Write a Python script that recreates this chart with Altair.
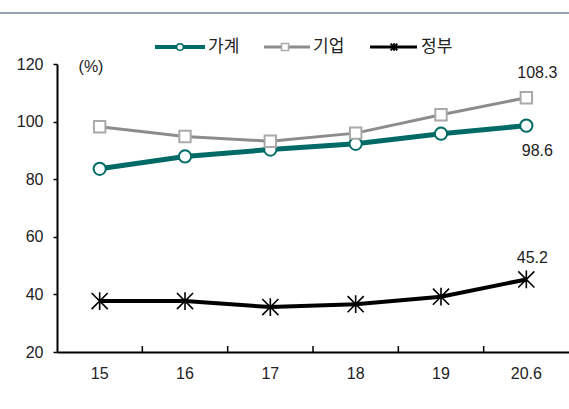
import altair as alt
import pandas as pd

years = ["15", "16", "17", "18", "19", "20.6"]
household = [83.6, 87.9, 90.3, 92.3, 95.8, 98.6]
corporate = [98.2, 94.8, 93.2, 96.0, 102.4, 108.3]
government = [37.7, 37.7, 35.6, 36.6, 39.2, 45.2]
series_names = ["가계", "기업", "정부"]
y_ticks = [20, 40, 60, 80, 100, 120]

W, H = 512, 288
PAD_L, PAD_T = 57, 64

TEAL = "#006B66"
GRAY = "#8C8C8C"
SQ_GRAY = "#AAAAAA"
BLACK = "#000000"
NUM_FONT = "Liberation Sans"
KR_FONT = "Noto Sans CJK KR"
STAR = "M-1,-1L1,1M-1,1L1,-1M0,-1.1L0,1.1"

rows = []
for name, vals in zip(series_names, [household, corporate, government]):
    for yr, v in zip(years, vals):
        rows.append({"year": yr, "series": name, "value": v})
df = pd.DataFrame(rows)

xscale = alt.Scale(type="band", domain=years, paddingInner=0, paddingOuter=0)
yscale = alt.Scale(domain=[20, 120], nice=False, zero=False)

xaxis = alt.Axis(title=None, ticks=False, labelPadding=13, labelFontSize=16,
                 labelFont=NUM_FONT, labelColor="#222", domainColor="#000",
                 domainWidth=2, labelAngle=0)
X = alt.X("year:N", scale=xscale, sort=years, bandPosition=0.5, axis=xaxis)
Y = alt.Y("value:Q", scale=yscale,
          axis=alt.Axis(title=None, values=y_ticks, tickSize=4, tickColor="#000",
                        tickWidth=1.5, labelPadding=10, labelFontSize=16,
                        labelFont=NUM_FONT, labelColor="#222", domainColor="#000",
                        domainWidth=2, grid=False))

base = alt.Chart(df)

styles = {
    "가계": dict(color=TEAL, width=5, shape="circle", size=150, stroke=TEAL, sw=2, fill="white"),
    "기업": dict(color=GRAY, width=3, shape="square", size=130, stroke=SQ_GRAY, sw=2, fill="white"),
    "정부": dict(color=BLACK, width=4, shape=STAR, size=260, stroke=BLACK, sw=1.6, fill=None),
}

layers = []

for name in ["정부", "가계", "기업"]:
    s = styles[name]
    sub = base.transform_filter(alt.datum.series == name)
    layers.append(sub.mark_line(color=s["color"], strokeWidth=s["width"]).encode(x=X, y=Y))
    pt_kwargs = dict(shape=s["shape"], size=s["size"], stroke=s["stroke"],
                     strokeWidth=s["sw"], opacity=1)
    if s["fill"]:
        pt_kwargs.update(filled=True, fill=s["fill"])
    else:
        pt_kwargs.update(filled=False)
    layers.append(sub.mark_point(**pt_kwargs).encode(x=X, y=Y))

# custom inward x ticks at band boundaries
tick_df = pd.DataFrame({"year": years[1:]})
layers.append(alt.Chart(tick_df).mark_rule(color="#000", strokeWidth=1.5).encode(
    x=alt.X("year:N", scale=xscale, sort=years, bandPosition=0, axis=xaxis),
    y=alt.value(H - 6), y2=alt.value(H)))

# value labels at last point
last = years[-1]
lab_specs = [("기업", 11, -25), ("가계", 11, 25), ("정부", 6, -21)]
for name, dx, dy in lab_specs:
    sub = base.transform_filter((alt.datum.series == name) & (alt.datum.year == last))
    layers.append(sub.mark_text(font=NUM_FONT, fontSize=16, color="#222", dx=dx, dy=dy).encode(
        x=X, y=Y, text=alt.Text("value:Q", format=".1f")))

# unit label
unit_df = pd.DataFrame({"t": ["(%)"]})
layers.append(alt.Chart(unit_df).mark_text(font=NUM_FONT, fontSize=16, color="#222").encode(
    x=alt.value(91 - PAD_L), y=alt.value(67 - PAD_T), text="t:N"))

# top gray rule
layers.append(alt.Chart(unit_df).mark_rule(color="#95A1AD", strokeWidth=2).encode(
    x=alt.value(-PAD_L), x2=alt.value(W + 2), y=alt.value(13 - PAD_T)))

# custom legend
LY = 47 - PAD_T
legend_pos = {"가계": (155, 205, 180, 208), "기업": (264, 310, 285, 313), "정부": (370, 417, 394, 421)}
legend_marker = {
    "가계": dict(shape="circle", size=45, stroke=TEAL, strokeWidth=1.5, filled=True, fill="white", opacity=1),
    "기업": dict(shape="square", size=50, stroke=SQ_GRAY, strokeWidth=1.5, filled=True, fill="white", opacity=1),
    "정부": dict(shape=STAR, size=45, stroke=BLACK, strokeWidth=2, filled=False, opacity=1),
}
legend_lw = {"가계": 4, "기업": 3, "정부": 3}
for name in series_names:
    x0, x1, xm, xt = legend_pos[name]
    ldf = pd.DataFrame({"label": [name]})
    lc = alt.Chart(ldf)
    layers.append(lc.mark_rule(color=styles[name]["color"], strokeWidth=legend_lw[name]).encode(
        x=alt.value(x0 - PAD_L), x2=alt.value(x1 - PAD_L), y=alt.value(LY)))
    layers.append(lc.mark_point(**legend_marker[name]).encode(
        x=alt.value(xm - PAD_L), y=alt.value(LY)))
    layers.append(lc.mark_text(font=KR_FONT, fontSize=17, color="#222", align="left",
                               baseline="middle").encode(
        x=alt.value(xt - PAD_L), y=alt.value(LY), text="label:N"))

chart = alt.layer(*layers).properties(
    width=W, height=H,
    autosize=alt.AutoSizeParams(type="none"),
    padding={"left": PAD_L, "top": PAD_T, "right": 0, "bottom": 409 - PAD_T - H},
    background="white",
).configure_view(stroke=None)

chart.save("out.html", embed_options={"renderer": "svg", "actions": False})
